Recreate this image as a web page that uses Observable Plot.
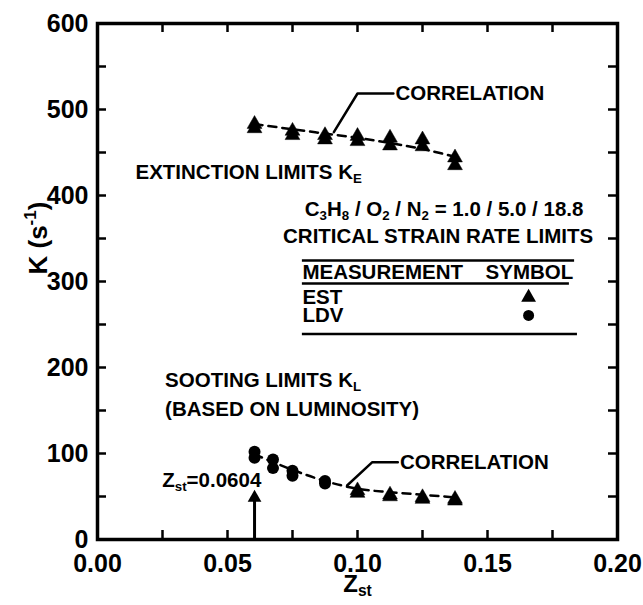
<!DOCTYPE html>
<html>
<head>
<meta charset="utf-8">
<script src="https://cdn.jsdelivr.net/npm/d3@7"></script>
<script src="https://cdn.jsdelivr.net/npm/@observablehq/plot@0.6"></script>
<style>
  html, body { margin: 0; padding: 0; background: #fff; }
  #chart { width: 643px; height: 605px; }
</style>
</head>
<body>
<div id="chart"></div>
<script>
// ---------- data ----------
const xTickLabels = [0, 0.05, 0.10, 0.15, 0.20];
const xTicksAll = [0, 0.025, 0.05, 0.075, 0.10, 0.125, 0.15, 0.175, 0.20];
const yTickLabels = [0, 100, 200, 300, 400, 500, 600];
const yTicksAll = [0, 50, 100, 150, 200, 250, 300, 350, 400, 450, 500, 550, 600];

// extinction limits (EST, triangles), two repeat measurements per Zst
const extZ = [0.0604, 0.075, 0.0875, 0.10, 0.1125, 0.125, 0.1375];
const extK_a = [483, 475, 470, 469, 467, 465, 444];
const extK_b = [478, 470, 465, 463, 458, 457, 435];
const extCorrK = [483, 477, 472, 467, 461, 454, 445];

// sooting limits: LDV circles and EST triangles
const sootLdvZ = [0.0604, 0.0675, 0.075, 0.0875];
const sootLdvK_a = [102, 93, 80, 68];
const sootLdvK_b = [95, 83, 74, 65];
const sootEstZ = [0.10, 0.1125, 0.125, 0.1375];
const sootEstK_a = [57, 52, 49, 47];
const sootEstK_b = [54, 50, 47, 45];
const sootCorrZ = [0.0604, 0.0675, 0.075, 0.0875, 0.10, 0.1125, 0.125, 0.1375];
const sootCorrK = [99, 90, 81, 68, 59, 55, 52, 49];

const stoichZ = 0.0604;

// annotation texts (anchors in data units)
const labels = [
  {x: 0.1146, y: 518.5, text: "CORRELATION", anchor: "start"},
  {x: 0.0146, y: 427, text: "EXTINCTION LIMITS K_{E}", anchor: "start"},
  {x: 0.1333, y: 383.5, text: "C_{3}H_{8} / O_{2} / N_{2} = 1.0 / 5.0 / 18.8", anchor: "middle"},
  {x: 0.131, y: 352.5, text: "CRITICAL STRAIN RATE LIMITS", anchor: "middle"},
  {x: 0.0788, y: 310.5, text: "MEASUREMENT", anchor: "start"},
  {x: 0.183, y: 310.5, text: "SYMBOL", anchor: "end"},
  {x: 0.0788, y: 281.5, text: "EST", anchor: "start"},
  {x: 0.0788, y: 260.5, text: "LDV", anchor: "start"},
  {x: 0.026, y: 185.5, text: "SOOTING LIMITS K_{L}", anchor: "start"},
  {x: 0.026, y: 151, text: "(BASED ON LUMINOSITY)", anchor: "start"},
  {x: 0.063, y: 68.5, text: "Z_{st}=0.0604", anchor: "end"},
  {x: 0.1163, y: 90, text: "CORRELATION", anchor: "start"}
];
const legendRules = [
  {y: 324.4, x1: 0.0788, x2: 0.1835},
  {y: 297.7, x1: 0.0788, x2: 0.1815},
  {y: 239, x1: 0.0788, x2: 0.1846}
];
const legendSymbols = [
  {x: 0.1658, y: 281.5, symbol: "triangle"},
  {x: 0.1658, y: 260.5, symbol: "circle"}
];
const leaderUpper = [{x: 0.1138, y: 518.6}, {x: 0.1, y: 518.6}, {x: 0.0909, y: 473.6}];
const leaderLower = [{x: 0.1155, y: 89.9}, {x: 0.1057, y: 89.9}, {x: 0.096, y: 62.8}];
const arrowTop = 48;
const arrowHeadK = 48.5;

// ---------- build tables ----------
const extPts = extZ.flatMap((z, i) => [{z, k: extK_a[i]}, {z, k: extK_b[i]}]);
const extCorr = extZ.map((z, i) => ({z, k: extCorrK[i]}));
const ldvPts = sootLdvZ.flatMap((z, i) => [{z, k: sootLdvK_a[i]}, {z, k: sootLdvK_b[i]}]);
const sootEstPts = sootEstZ.flatMap((z, i) => [{z, k: sootEstK_a[i]}, {z, k: sootEstK_b[i]}]);
const sootCorr = sootCorrZ.map((z, i) => ({z, k: sootCorrK[i]}));

const FONT = "Liberation Sans, Arial, Helvetica, sans-serif";
const FS = 20.5;      // annotation text
const TICK_FS = 25;   // tick labels
const W = 643, H = 605;
const M = {left: 97, right: 26, top: 23, bottom: 66};
const plotW = W - M.left - M.right, plotH = H - M.top - M.bottom;
const TICK = 9;

const chart = Plot.plot({
  width: W,
  height: H,
  marginLeft: M.left,
  marginRight: M.right,
  marginTop: M.top,
  marginBottom: M.bottom,
  style: {fontFamily: FONT, fontSize: FS + "px", fontWeight: "bold", color: "black", background: "white"},
  x: {domain: [0, 0.2], label: null, axis: null},
  y: {domain: [0, 600], label: null, axis: null},
  marks: [
    // inward ticks on all four sides
    Plot.tickX(xTicksAll, {x: d => d, insetTop: plotH - TICK, stroke: "black", strokeWidth: 2.5}),
    Plot.tickX(xTicksAll, {x: d => d, insetBottom: plotH - TICK, stroke: "black", strokeWidth: 2.5}),
    Plot.tickY(yTicksAll, {y: d => d, insetRight: plotW - TICK, stroke: "black", strokeWidth: 2.5}),
    Plot.tickY(yTicksAll, {y: d => d, insetLeft: plotW - TICK, stroke: "black", strokeWidth: 2.5}),
    // tick labels
    Plot.axisX({anchor: "bottom", ticks: xTickLabels, tickSize: 0, tickPadding: 15, tickFormat: d3.format(".2f"), label: null, fontSize: TICK_FS, fontWeight: "bold"}),
    Plot.axisY({anchor: "left", ticks: yTickLabels, tickSize: 0, tickPadding: 9, tickFormat: d3.format("d"), label: null, fontSize: TICK_FS, fontWeight: "bold"}),
    Plot.frame({stroke: "black", strokeWidth: 3.5}),
    // axis titles
    Plot.text(["K (s^{-1})"], {frameAnchor: "left", dx: -59, dy: -7, rotate: -90, fontSize: 26, fontWeight: "bold"}),
    Plot.text(["Z_{st}"], {frameAnchor: "bottom", dy: 52, fontSize: 24, fontWeight: "bold"}),
    // correlation dashed lines
    Plot.line(extCorr, {x: "z", y: "k", stroke: "black", strokeWidth: 2.5, strokeDasharray: "8,6", curve: "monotone-x"}),
    Plot.line(sootCorr, {x: "z", y: "k", stroke: "black", strokeWidth: 2.5, strokeDasharray: "8,6", curve: "monotone-x"}),
    // data markers
    Plot.dot(extPts, {x: "z", y: "k", symbol: "triangle", r: 5.5, fill: "black", stroke: "black", strokeWidth: 0.5}),
    Plot.dot(sootEstPts, {x: "z", y: "k", symbol: "triangle", r: 5.5, fill: "black", stroke: "black", strokeWidth: 0.5}),
    Plot.dot(ldvPts, {x: "z", y: "k", symbol: "circle", r: 6, fill: "black"}),
    // leaders
    Plot.line(leaderUpper, {x: "x", y: "y", stroke: "black", strokeWidth: 2.5}),
    Plot.line(leaderLower, {x: "x", y: "y", stroke: "black", strokeWidth: 2.5}),
    // Zst arrow
    Plot.ruleX([stoichZ], {y1: 0, y2: arrowTop, stroke: "black", strokeWidth: 3}),
    Plot.dot([stoichZ], {x: d => d, y: () => arrowHeadK, symbol: "triangle", r: 5.1, fill: "black"}),
    // legend table
    Plot.ruleY(legendRules, {y: "y", x1: "x1", x2: "x2", stroke: "black", strokeWidth: 2.5}),
    Plot.dot(legendSymbols, {x: "x", y: "y", symbol: "symbol", r: 5.5, fill: "black"}),
    // annotation texts
    Plot.text(labels, {x: "x", y: "y", text: "text", textAnchor: "start", fontSize: FS, fontWeight: "bold",
      filter: d => d.anchor === "start"}),
    Plot.text(labels, {x: "x", y: "y", text: "text", textAnchor: "middle", fontSize: FS, fontWeight: "bold",
      filter: d => d.anchor === "middle"}),
    Plot.text(labels, {x: "x", y: "y", text: "text", textAnchor: "end", fontSize: FS, fontWeight: "bold",
      filter: d => d.anchor === "end"})
  ]
});

document.getElementById("chart").appendChild(chart);

// sub/superscript markup -> tspans
const NS = "http://www.w3.org/2000/svg";
function richify(el) {
  const s = el.textContent;
  if (!/[_^]\{/.test(s)) return;
  const fs = parseFloat(getComputedStyle(el).fontSize) || FS;
  el.textContent = "";
  const re = /([_^])\{([^}]*)\}/g;
  let last = 0, m, shift = 0;
  const add = (txt, kind) => {
    const t = document.createElementNS(NS, "tspan");
    t.textContent = txt;
    const target = kind === "_" ? 0.2 : kind === "^" ? -0.42 : 0;
    const dy = (target - shift) * fs;
    if (dy) t.setAttribute("dy", dy.toFixed(2));
    shift = target;
    if (kind) t.setAttribute("font-size", (fs * 0.65).toFixed(1));
    el.appendChild(t);
  };
  while ((m = re.exec(s))) {
    if (m.index > last) add(s.slice(last, m.index), "");
    add(m[2], m[1]);
    last = re.lastIndex;
  }
  if (last < s.length) add(s.slice(last), "");
}
chart.querySelectorAll("text").forEach(t => {
  if (t.querySelector("tspan")) t.querySelectorAll("tspan").forEach(richify);
  else richify(t);
});
</script>
</body>
</html>
